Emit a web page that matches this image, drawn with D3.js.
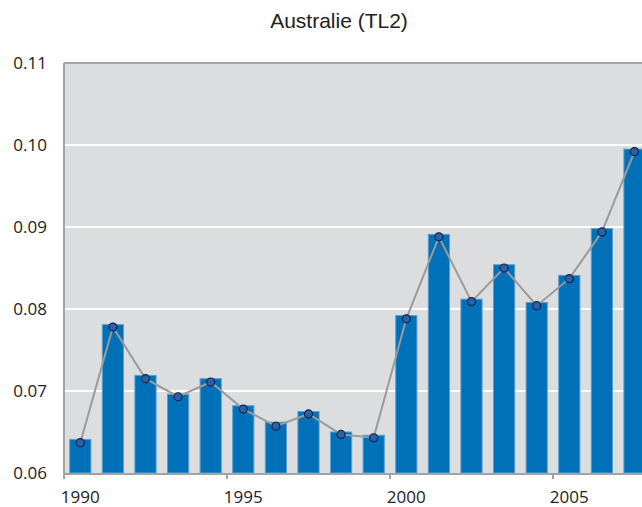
<!doctype html>
<meta charset="utf-8">
<script src="https://d3js.org/d3.v7.min.js"></script>
<style>
  body { margin: 0; background: #fff; overflow: hidden; }
  text { fill: #222; }
</style>
<body>
</body>
<script>
// data
var years = ["1990","1991","1992","1993","1994","1995","1996","1997","1998","1999",
             "2000","2001","2002","2003","2004","2005","2006","2007"];
var barValues = [0.0641, 0.0781, 0.0719, 0.0696, 0.0715, 0.0682, 0.0662, 0.0675, 0.0650, 0.0646,
                 0.0792, 0.0891, 0.0812, 0.0854, 0.0808, 0.0841, 0.0898, 0.0995];
var lineValues = [0.0637, 0.0778, 0.0715, 0.0693, 0.0711, 0.0678, 0.0657, 0.0672, 0.0647, 0.0643,
                  0.0788, 0.0888, 0.0809, 0.0850, 0.0804, 0.0837, 0.0894, 0.0992];
var yTicks = [0.06, 0.07, 0.08, 0.09, 0.10, 0.11];
var xLabels = ["1990","1995","2000","2005"];
var chartTitle = "Australie (TL2)";

var W = 642, H = 507;
var plotL = 64, plotT = 63, plotB = 473;
var plotR = plotL + 18 * 32.6;

var svg = d3.select("body").append("svg").attr("width", W).attr("height", H);

var x = d3.scaleBand().domain(years).range([plotL, plotR])
    .paddingInner(0.35).paddingOuter(0.175);
var y = d3.scaleLinear().domain([0.06, 0.11]).range([plotB, plotT]);

// plot background
svg.append("rect")
    .attr("x", plotL).attr("y", plotT)
    .attr("width", plotR - plotL).attr("height", plotB - plotT)
    .style("fill", "#dcdddf");

// gridlines
svg.append("g").selectAll("line")
    .data(yTicks.slice(1, -1))
    .enter().append("line")
    .attr("x1", plotL).attr("x2", plotR)
    .attr("y1", function(d) { return y(d); })
    .attr("y2", function(d) { return y(d); })
    .style("stroke", "#fff").style("stroke-width", 2);

// frame (top + left)
svg.append("line").attr("x1", plotL).attr("x2", plotR).attr("y1", plotT).attr("y2", plotT)
    .style("stroke", "#a3a3a5").style("stroke-width", 2);
svg.append("line").attr("x1", plotL).attr("x2", plotL).attr("y1", plotT).attr("y2", plotB)
    .style("stroke", "#a3a3a5").style("stroke-width", 2);

// bars
svg.append("g").selectAll("rect")
    .data(barValues)
    .enter().append("rect")
    .attr("x", function(d, i) { return x(years[i]); })
    .attr("y", function(d) { return y(d); })
    .attr("width", x.bandwidth())
    .attr("height", function(d) { return plotB - y(d); })
    .style("fill", "#0070b8")
    .style("stroke", "#5a9fd0")
    .style("stroke-width", 1);

// x axis line + ticks
svg.append("line").attr("x1", plotL).attr("x2", plotR).attr("y1", plotB + 1).attr("y2", plotB + 1)
    .style("stroke", "#a3a3a5").style("stroke-width", 2);
svg.append("g").selectAll("line")
    .data(xLabels)
    .enter().append("line")
    .attr("x1", function(d) { return x(d) - x.step() * 0.175; })
    .attr("x2", function(d) { return x(d) - x.step() * 0.175; })
    .attr("y1", plotB).attr("y2", plotB + 6)
    .style("stroke", "#a3a3a5").style("stroke-width", 2);

// line series
var line = d3.line()
    .x(function(d, i) { return x(years[i]) + x.bandwidth() / 2; })
    .y(function(d) { return y(d); });
svg.append("path")
    .datum(lineValues)
    .attr("d", line)
    .style("fill", "none")
    .style("stroke", "#9a9a9a")
    .style("stroke-width", 2);

svg.append("g").selectAll("circle")
    .data(lineValues)
    .enter().append("circle")
    .attr("cx", function(d, i) { return x(years[i]) + x.bandwidth() / 2; })
    .attr("cy", function(d) { return y(d); })
    .attr("r", 4)
    .style("fill", "#2b62a3")
    .style("stroke", "#0d2150")
    .style("stroke-width", 1.2);

// y labels
svg.append("g").selectAll("text")
    .data(yTicks)
    .enter().append("text")
    .attr("x", 47)
    .attr("y", function(d) { return y(d) + 6; })
    .attr("text-anchor", "end")
    .style("font-family", "Open Sans, sans-serif")
    .style("font-size", "17px")
    .text(function(d) { return d3.format(".2f")(d); });

// x labels
svg.append("g").selectAll("text")
    .data(xLabels)
    .enter().append("text")
    .attr("x", function(d) { return x(d) + x.bandwidth() / 2; })
    .attr("y", 503)
    .attr("text-anchor", "middle")
    .style("font-family", "Open Sans, sans-serif")
    .style("font-size", "17px")
    .text(function(d) { return d; });

// title
svg.append("text")
    .attr("x", 339).attr("y", 28)
    .attr("text-anchor", "middle")
    .style("font-family", "Liberation Sans, Arial, sans-serif")
    .style("font-size", "21px")
    .text(chartTitle);
</script>
